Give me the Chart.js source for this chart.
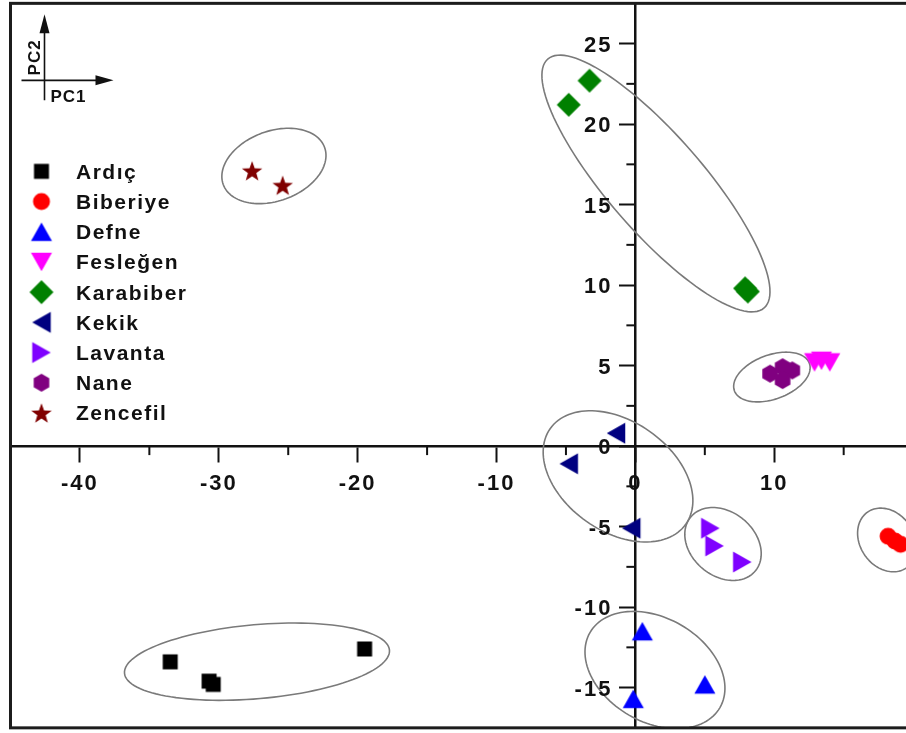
<!DOCTYPE html>
<html>
<head>
<meta charset="utf-8">
<script src="https://cdn.jsdelivr.net/npm/chart.js@4/dist/chart.umd.min.js"></script>
<style>
  html, body { margin: 0; padding: 0; background: #fff; overflow: hidden; }
  #wrap { width: 906px; height: 733px; overflow: hidden; position: relative; }
  canvas { display: block; }
</style>
</head>
<body>
<div id="wrap"><canvas id="pca" width="938" height="733"></canvas></div>
<script>
// PCA scores (PC1, PC2) per essential-oil sample
const seriesNames = ['Ardıç', 'Biberiye', 'Defne', 'Fesleğen', 'Karabiber', 'Kekik', 'Lavanta', 'Nane', 'Zencefil'];

const ardicPC1 = [-33.5, -30.7, -30.4, -19.5];
const ardicPC2 = [-13.4, -14.6, -14.8, -12.6];
const biberiyePC1 = [18.2, 18.7, 19.1];
const biberiyePC2 = [-5.6, -5.9, -6.1];
const defnePC1 = [0.5, 5.0, -0.15];
const defnePC2 = [-11.5, -14.8, -15.7];
const feslegenPC1 = [12.9, 13.4, 14.0];
const feslegenPC2 = [5.2, 5.3, 5.2];
const karabiberPC1 = [-3.3, -4.8, 7.9, 8.1];
const karabiberPC2 = [22.7, 21.2, 9.8, 9.6];
const kekikPC1 = [-1.4, -4.8, -0.3];
const kekikPC2 = [0.8, -1.1, -5.1];
const lavantaPC1 = [5.4, 5.7, 7.7];
const lavantaPC2 = [-5.1, -6.2, -7.2];
const nanePC1 = [9.7, 10.6, 11.3, 10.6];
const nanePC2 = [4.5, 4.9, 4.7, 4.1];
const zencefilPC1 = [-27.6, -25.4];
const zencefilPC2 = [17.1, 16.2];

// axis tick labels
const xTickLabels = [-40, -30, -20, -10, 0, 10];
const yTickLabels = [-15, -10, -5, 0, 5, 10, 15, 20, 25];

// group ellipses in score units: centre, and two conjugate half-axes
const ellipseCenters = [[-27.25, -13.39], [18.12, -5.83], [1.41, -13.91], [9.83, 4.29],
                        [1.48, 16.31], [-1.25, -1.88], [6.31, -6.08], [-26.03, 17.40]];
const ellipseAxisU = [[9.54, 0.72], [1.4, -1.73], [4.68, -2.33], [2.7, 0.85],
                      [7.79, -7.73], [4.89, -2.96], [2.32, -1.68], [3.65, 1.15]];
const ellipseAxisV = [[0.23, -2.29], [-1.59, -0.96], [-1.87, -2.8], [0.54, -1.29],
                      [-2.6, -1.96], [-2.27, -2.8], [-1.48, -1.52], [0.86, -2.04]];

const FONT = "'Liberation Sans', Arial, Helvetica, sans-serif";
const INK = '#111';

// symbol sprites used both on the plot and in the legend
function makeSymbol(shape, color) {
  const s = 26;
  const c = document.createElement('canvas');
  c.width = s; c.height = s;
  const g = c.getContext('2d');
  g.fillStyle = color;
  g.translate(s / 2, s / 2);
  g.beginPath();
  const tri = (deg) => {
    g.rotate(deg * Math.PI / 180);
    const w = 21, h = 18.5;
    g.moveTo(0, -h / 2); g.lineTo(w / 2, h / 2); g.lineTo(-w / 2, h / 2); g.closePath();
  };
  switch (shape) {
    case 'square': g.rect(-7.5, -7.5, 15, 15); break;
    case 'circle': g.arc(0, 0, 8.5, 0, Math.PI * 2); break;
    case 'up': tri(0); break;
    case 'down': tri(180); break;
    case 'left': tri(-90); break;
    case 'right': tri(90); break;
    case 'diamond':
      g.moveTo(0, -12); g.lineTo(12, 0); g.lineTo(0, 12); g.lineTo(-12, 0); g.closePath(); break;
    case 'hexagon':
      for (let k = 0; k < 6; k++) {
        const a = -Math.PI / 2 + k * Math.PI / 3;
        const px = 9 * Math.cos(a), py = 9 * Math.sin(a);
        k ? g.lineTo(px, py) : g.moveTo(px, py);
      }
      g.closePath(); break;
    case 'star':
      for (let k = 0; k < 10; k++) {
        const a = -Math.PI / 2 + k * Math.PI / 5;
        const r = k % 2 ? 4.4 : 10.8;
        const px = r * Math.cos(a), py = r * Math.sin(a) + 1;
        k ? g.lineTo(px, py) : g.moveTo(px, py);
      }
      g.closePath(); break;
  }
  g.fill();
  return c;
}

const seriesPC1 = [ardicPC1, biberiyePC1, defnePC1, feslegenPC1, karabiberPC1, kekikPC1, lavantaPC1, nanePC1, zencefilPC1];
const seriesPC2 = [ardicPC2, biberiyePC2, defnePC2, feslegenPC2, karabiberPC2, kekikPC2, lavantaPC2, nanePC2, zencefilPC2];
const seriesShapes = ['square', 'circle', 'up', 'down', 'diamond', 'left', 'right', 'hexagon', 'star'];
const seriesColors = ['#000000', '#ff0000', '#0000ff', '#ff00ff', '#008000', '#000080', '#7f00ff', '#800080', '#800000'];

const datasets = seriesNames.map((name, i) => ({
  label: name,
  data: seriesPC1[i].map((x, j) => ({ x: x, y: seriesPC2[i][j] })),
  pointStyle: makeSymbol(seriesShapes[i], seriesColors[i]),
  pointRadius: 10,
  pointHoverRadius: 10,
  backgroundColor: seriesColors[i],
  borderColor: seriesColors[i],
  showLine: false
}));

// wide bold lettering for the axis numbers
const spacingPlugin = {
  id: 'spacing',
  beforeDraw(chart) { chart.ctx.letterSpacing = '2px'; }
};

// group ellipses and the outer frame
const ellipsePlugin = {
  id: 'ellipses',
  beforeDatasetsDraw(chart) {
    const ctx = chart.ctx, area = chart.chartArea;
    const sx = chart.scales.x, sy = chart.scales.y;
    ctx.save();
    ctx.beginPath();
    ctx.rect(area.left, area.top, area.right - area.left, area.bottom - area.top);
    ctx.clip();
    ctx.strokeStyle = '#7a7a7a';
    ctx.lineWidth = 1.6;
    ellipseCenters.forEach((c, k) => {
      const u = ellipseAxisU[k], v = ellipseAxisV[k];
      ctx.beginPath();
      const n = 120;
      for (let s = 0; s <= n; s++) {
        const t = s / n * Math.PI * 2;
        const px = sx.getPixelForValue(c[0] + u[0] * Math.cos(t) + v[0] * Math.sin(t));
        const py = sy.getPixelForValue(c[1] + u[1] * Math.cos(t) + v[1] * Math.sin(t));
        s ? ctx.lineTo(px, py) : ctx.moveTo(px, py);
      }
      ctx.closePath();
      ctx.stroke();
    });
    ctx.restore();

    ctx.save();
    ctx.strokeStyle = '#1c1c1c';
    ctx.lineWidth = 3;
    ctx.strokeRect(area.left, area.top, area.right - area.left, area.bottom - area.top);
    ctx.restore();
  }
};

// y labels left of the axis, short minor ticks, legend and the PC1/PC2 key
const overlayPlugin = {
  id: 'overlay',
  afterDraw(chart) {
    const ctx = chart.ctx, area = chart.chartArea;
    const sx = chart.scales.x, sy = chart.scales.y;
    const x0 = sx.getPixelForValue(0), y0 = sy.getPixelForValue(0);
    ctx.save();
    ctx.strokeStyle = INK;
    ctx.lineWidth = 2;
    sx.ticks.forEach(t => {
      if (xTickLabels.includes(t.value) || t.value <= sx.min || t.value >= sx.max) return;
      const px = sx.getPixelForValue(t.value);
      ctx.beginPath(); ctx.moveTo(px, y0); ctx.lineTo(px, y0 + 9); ctx.stroke();
    });
    sy.ticks.forEach(t => {
      if (yTickLabels.includes(t.value) || t.value <= sy.min || t.value >= sy.max) return;
      const py = sy.getPixelForValue(t.value);
      ctx.beginPath(); ctx.moveTo(x0, py); ctx.lineTo(x0 - 9, py); ctx.stroke();
    });

    ctx.fillStyle = INK;
    ctx.font = 'bold 22px ' + FONT;
    ctx.letterSpacing = '2px';
    ctx.textAlign = 'right';
    ctx.textBaseline = 'alphabetic';
    yTickLabels.forEach(v => {
      ctx.fillText(String(v), x0 - 23, sy.getPixelForValue(v) + 8);
    });

    // legend
    const lx = area.left + 31, ly = area.top + 168, step = 30.2;
    ctx.font = 'bold 21px ' + FONT;
    ctx.letterSpacing = '1.5px';
    ctx.textAlign = 'left';
    chart.data.datasets.forEach((ds, i) => {
      const yy = ly + i * step;
      const img = ds.pointStyle;
      ctx.drawImage(img, lx - img.width / 2, yy - img.height / 2);
      ctx.fillText(ds.label, lx + 34.5, yy + 7.5);
    });

    // orientation key
    const kx = area.left + 34, ky = area.top + 77;
    ctx.strokeStyle = INK; ctx.fillStyle = INK; ctx.lineWidth = 1.6;
    ctx.beginPath();
    ctx.moveTo(kx, ky + 20); ctx.lineTo(kx, ky - 60);
    ctx.moveTo(kx - 23, ky); ctx.lineTo(kx + 62, ky);
    ctx.stroke();
    ctx.beginPath();
    ctx.moveTo(kx, ky - 66); ctx.lineTo(kx - 5, ky - 47); ctx.lineTo(kx + 5, ky - 47); ctx.closePath();
    ctx.fill();
    ctx.beginPath();
    ctx.moveTo(kx + 69, ky); ctx.lineTo(kx + 51, ky - 5); ctx.lineTo(kx + 51, ky + 5); ctx.closePath();
    ctx.fill();
    ctx.font = 'bold 17px ' + FONT;
    ctx.letterSpacing = '1px';
    ctx.textAlign = 'left';
    ctx.fillText('PC1', kx + 6, ky + 22);
    ctx.save();
    ctx.translate(kx - 5, ky - 23);
    ctx.rotate(-Math.PI / 2);
    ctx.textAlign = 'center';
    ctx.fillText('PC2', 0, 0);
    ctx.restore();
    ctx.restore();
  }
};

const tickFont = { family: FONT, size: 22, weight: 'bold' };
const noPadding = (scale) => {
  scale.paddingTop = 0; scale.paddingBottom = 0;
  scale.paddingLeft = 0; scale.paddingRight = 0;
};

new Chart(document.getElementById('pca'), {
  type: 'scatter',
  data: { datasets: datasets },
  options: {
    responsive: false,
    devicePixelRatio: 1,
    animation: false,
    layout: { autoPadding: false, padding: { left: 10.5, right: 11, top: 3.35, bottom: 5.15 } },
    plugins: { legend: { display: false }, tooltip: { enabled: false } },
    scales: {
      x: {
        type: 'linear',
        min: -45, max: 21,
        position: { y: 0 },
        afterFit: noPadding,
        ticks: {
          stepSize: 5, autoSkip: false, maxRotation: 0, includeBounds: false,
          padding: 10, color: INK, font: tickFont,
          callback: (v) => xTickLabels.includes(v) ? String(v) : ''
        },
        grid: {
          display: true, drawOnChartArea: false, drawTicks: true, tickLength: 15, tickWidth: 2,
          tickColor: (c) => (c.tick && xTickLabels.includes(c.tick.value)) ? INK : 'rgba(0,0,0,0)'
        },
        border: { display: true, color: INK, width: 2.5 }
      },
      y: {
        type: 'linear',
        min: -17.5, max: 27.5,
        position: { x: 0 },
        afterFit: noPadding,
        ticks: {
          stepSize: 2.5, autoSkip: false, includeBounds: false, display: false
        },
        grid: {
          display: true, drawOnChartArea: false, drawTicks: true, tickLength: 15, tickWidth: 2,
          tickColor: (c) => (c.tick && yTickLabels.includes(c.tick.value)) ? INK : 'rgba(0,0,0,0)'
        },
        border: { display: true, color: INK, width: 2.5 }
      }
    }
  },
  plugins: [spacingPlugin, ellipsePlugin, overlayPlugin]
});
</script>
</body>
</html>
